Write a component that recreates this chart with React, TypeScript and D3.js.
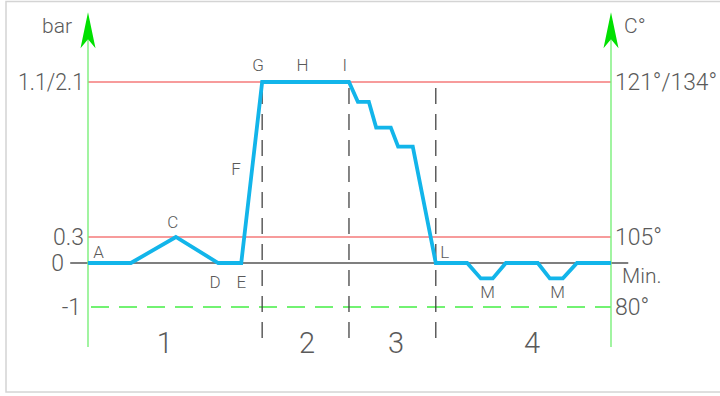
import React from "react";
import * as d3 from "d3";

// Pressure / temperature profile (schematic)
const PROFILE_T = [0, 8.2, 16.8, 24.9, 29.3, 33.3, 49.9, 51.6, 53.7, 55.1, 57.9, 59.3, 62.1, 66.5, 72.5, 75.1, 77.4, 79.9, 86.0, 88.3, 90.8, 93.5, 100];
const PROFILE_V = [0, 0, 0.3, 0, 0, 2.1, 2.1, 1.87, 1.87, 1.57, 1.57, 1.35, 1.35, 0, 0, -0.35, -0.35, 0, 0, -0.35, -0.35, 0, 0];

const LEVELS = [-1, 0, 0.3, 2.1];
const LEFT_TICKS = ["-1", "0", "0.3", "1.1/2.1"];
const RIGHT_TICKS = ["80°", "Min.", "105°", "121°/134°"];

const POINT_NAMES = ["A", "C", "D", "E", "F", "G", "H", "I", "L", "M", "M"];
const POINT_T = [2.0, 16.2, 24.3, 29.3, 28.3, 32.5, 41.0, 49.1, 68.2, 76.4, 89.8];
const POINT_V = [0.06, 0.4, -0.57, -0.57, 1.02, 2.23, 2.23, 2.23, 0.06, -0.8, -0.8];

const PHASES = ["1", "2", "3", "4"];
const PHASE_T = [14.7, 41.9, 58.9, 84.9];
const PHASE_BOUNDS = [33.3, 49.9, 66.5];

const AXIS_MIN = -1.91;
const AXIS_MAX = 2.91;

export default function App() {
  const W = 720, H = 396;
  const x = d3.scaleLinear().domain([0, 100]).range([88, 611]);
  const y = d3.scaleLinear().domain(LEVELS).range([307, 263, 237, 82]);
  const font = "Roboto, 'DejaVu Sans', sans-serif";
  const txt = "#5a5a5a";

  const line = d3.line<number>()
    .x((_, i) => x(PROFILE_T[i]))
    .y((v) => y(v));

  const arrow = (cx: number) => {
    const tip = y(AXIS_MAX);
    return `M${cx},${tip} L${cx + 7.5},${tip + 36} L${cx},${tip + 27} L${cx - 7.5},${tip + 36} Z`;
  };

  return (
    <svg width={W} height={H} style={{ position: "absolute", left: 0, top: 0 }} fontFamily={font}>
      <rect x={6} y={1.5} width={W} height={390.5} fill="#fff" stroke="#d4d4d4" strokeWidth={1.5} />

      {/* red limit lines */}
      {[0.3, 2.1].map((v) => (
        <line key={v} x1={x(0)} x2={x(100)} y1={y(v)} y2={y(v)} stroke="#f47a7a" strokeWidth={1.4} />
      ))}
      {/* zero line */}
      <line x1={x(-3.4)} x2={x(103.3)} y1={y(0)} y2={y(0)} stroke="#555" strokeWidth={1.3} />
      {/* green dashed -1 line */}
      <line x1={x(0)} x2={x(100)} y1={y(-1)} y2={y(-1)} stroke="#44ee44" strokeWidth={1.4} strokeDasharray="18 10" strokeDashoffset={-3} />
      {/* phase boundaries */}
      {PHASE_BOUNDS.map((t) => (
        <line key={t} x1={x(t)} x2={x(t)} y1={y(2.1)} y2={y(AXIS_MIN)} stroke="#444" strokeWidth={1.3} strokeDasharray="16 10" strokeDashoffset={-6} />
      ))}

      {/* axes */}
      {[0, 100].map((t) => (
        <g key={t}>
          <line x1={x(t)} x2={x(t)} y1={y(AXIS_MAX) + 20} y2={y(AXIS_MIN)} stroke="#7af07a" strokeWidth={1.4} />
          <path d={arrow(x(t))} fill="#00e000" />
        </g>
      ))}

      {/* profile */}
      <path d={line(PROFILE_V) || ""} fill="none" stroke="#12b5ea" strokeWidth={3.8} strokeLinejoin="miter" />

      {/* axis titles */}
      <text x={42} y={33} fontSize={21} fill={txt} fontWeight={300}>bar</text>
      <text x={624} y={33} fontSize={21} fill={txt} fontWeight={300}>C°</text>

      {/* left tick labels */}
      {LEVELS.map((v, i) => {
        const long = LEFT_TICKS[i].length > 4;
        return (
          <text key={i} x={v === 0 ? 64 : v === -1 ? 81 : 84} y={y(v)} dy="0.36em" textAnchor="end" fontSize={23} fill={txt} fontWeight={300}
            {...(long ? { textLength: 66, lengthAdjust: "spacingAndGlyphs" } : {})}>
            {LEFT_TICKS[i]}
          </text>
        );
      })}
      {/* right tick labels */}
      {LEVELS.map((v, i) => {
        const isMin = RIGHT_TICKS[i] === "Min.";
        const long = RIGHT_TICKS[i].length > 5;
        return (
          <text key={i} x={isMin ? 622 : 615} y={isMin ? y(v) + 20 : y(v)} dy={isMin ? 0 : "0.36em"} fontSize={isMin ? 21 : 23} fill={txt} fontWeight={300}
            {...(long ? { textLength: 102, lengthAdjust: "spacingAndGlyphs" } : {})}>
            {RIGHT_TICKS[i]}
          </text>
        );
      })}

      {/* point labels */}
      {POINT_NAMES.map((n, i) => (
        <text key={i} x={x(POINT_T[i])} y={y(POINT_V[i])} textAnchor="middle" fontSize={17} fill={txt} fontWeight={300}>
          {n}
        </text>
      ))}

      {/* phase numbers */}
      {PHASES.map((p, i) => (
        <text key={i} x={x(PHASE_T[i])} y={y(-2.05)} textAnchor="middle" fontSize={29} fill={txt} fontWeight={300}>
          {p}
        </text>
      ))}
    </svg>
  );
}
